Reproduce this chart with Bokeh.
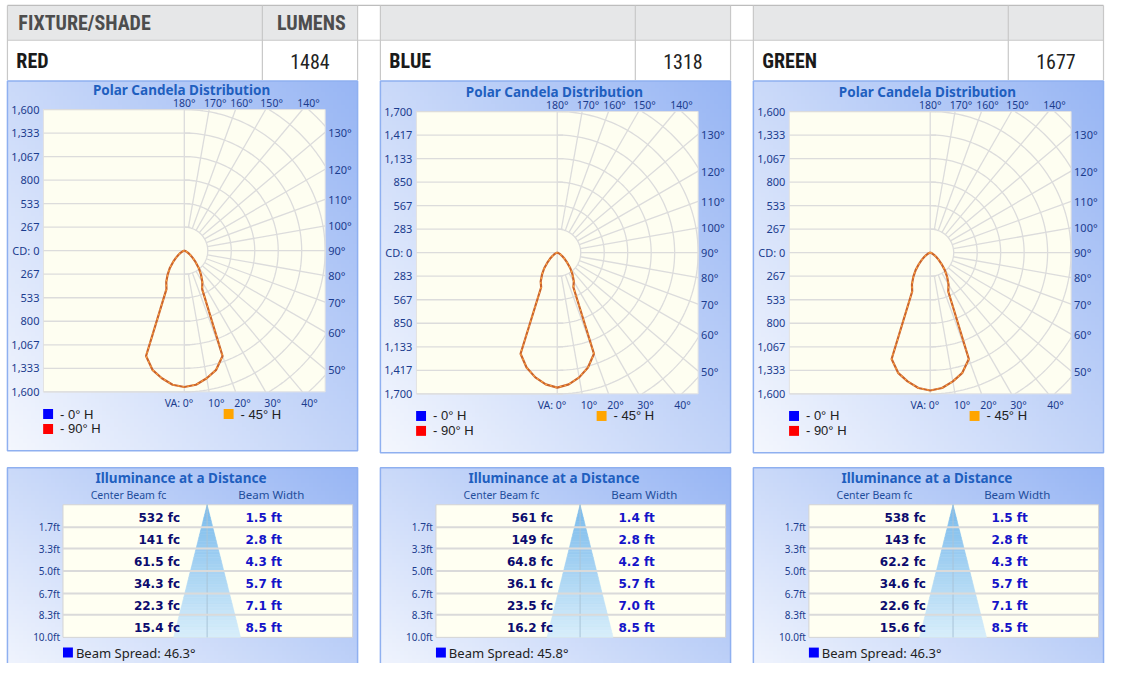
import numpy as np
from bokeh.plotting import figure
from bokeh.models import Range1d
from bokeh.core.properties import value
from bokeh.embed import file_html
from bokeh.resources import INLINE

# ---------------- data ----------------
shades = ["RED", "BLUE", "GREEN"]
lumens = [1484, 1318, 1677]
header_titles = ["FIXTURE/SHADE", "LUMENS"]
cd_axis_max = [1600, 1700, 1600]
vertical_angles = [0, 5, 10, 15, 20, 25, 30, 35, 40, 45, 50, 55, 60, 65, 70, 75, 80, 85, 90]
candela_red = [1545, 1525, 1468, 1398, 1270, 480, 410, 330, 255, 180, 122, 80, 50, 30, 18, 10, 5, 2, 0]
candela_blue = [1625, 1592, 1525, 1432, 1295, 460, 400, 320, 245, 170, 115, 75, 48, 28, 16, 9, 4, 2, 0]
candela_green = [1562, 1540, 1482, 1410, 1282, 485, 415, 335, 258, 182, 123, 81, 50, 30, 18, 10, 5, 2, 0]
bottom_angle_ticks = [0, 10, 20, 30, 40]
top_angle_ticks = [180, 170, 160, 150, 140]
right_angle_ticks = [130, 120, 110, 100, 90, 80, 70, 60, 50]
legend_labels = ["- 0° H", "- 90° H", "- 45° H"]
legend_colors = ["#0000FF", "#FF0000", "#FFA500"]
distance_ft = [1.7, 3.3, 5.0, 6.7, 8.3, 10.0]
center_fc_red = [532, 141, 61.5, 34.3, 22.3, 15.4]
center_fc_blue = [561, 149, 64.8, 36.1, 23.5, 16.2]
center_fc_green = [538, 143, 62.2, 34.6, 22.6, 15.6]
beam_width_red = [1.5, 2.8, 4.3, 5.7, 7.1, 8.5]
beam_width_blue = [1.4, 2.8, 4.2, 5.7, 7.0, 8.5]
beam_width_green = [1.5, 2.8, 4.3, 5.7, 7.1, 8.5]
beam_spread_deg = [46.3, 45.8, 46.3]

candelas = [candela_red, candela_blue, candela_green]
center_fcs = [center_fc_red, center_fc_blue, center_fc_green]
beam_widths = [beam_width_red, beam_width_blue, beam_width_green]

# ---------------- styling / layout ----------------
F_HEAD = "'Roboto Condensed', 'Liberation Sans Narrow', Roboto"
F_CHART = "Noto Sans"
F_VAL = "DejaVu Sans"
F_LEG = "Liberation Sans"
TITLE_C = "#1F5FBF"
NAVY = "#1B3C8E"
GRID_C = "#DCDCDC"
PANEL_BORDER = "#8FB0F0"
LIGHT = (244, 247, 254)
DARK = (152, 182, 244)

W, H = 1105, 663
FX0, FX1, FY0, FY1 = 0, 1114, 0, 667

p = figure(width=W, height=H, x_range=Range1d(FX0, FX1), y_range=Range1d(FY1, FY0),
           x_axis_type=None, y_axis_type=None, output_backend="svg",
           toolbar_location=None, min_border=0, outline_line_color=None,
           background_fill_color="white", border_fill_color="white")
p.extra_y_ranges["up"] = Range1d(-FY1, -FY0)


def add_x(name, c, ppu):
    p.extra_x_ranges[name] = Range1d((FX0 - c) / ppu, (FX1 - c) / ppu)


def add_y_up(name, c, ppu):
    p.extra_y_ranges[name] = Range1d((c - FY1) / ppu, (c - FY0) / ppu)


def add_y_down(name, top, ppu):
    p.extra_y_ranges[name] = Range1d((FY1 - top) / ppu, (FY0 - top) / ppu)


def txt(x, y, t, size, color, font=F_CHART, style="normal", align="left", base="middle", **kw):
    p.text(x=x, y=y, text=t, text_font=value(font), text_font_size=size,
           text_color=color, text_font_style=style, text_align=align,
           text_baseline=base, **kw)


def gradient_panel(x0, y0, x1, y1):
    w = max(2, int((x1 - x0) / 4))
    h = max(2, int((y1 - y0) / 4))
    fx = np.linspace(0, 1, w)[None, :]
    fy = np.linspace(0, 1, h)[:, None]
    t = (fx * 0.55 + fy * 0.45)
    img = np.empty((h, w), dtype=np.uint32)
    v = img.view(dtype=np.uint8).reshape((h, w, 4))
    for k in range(3):
        v[..., k] = (LIGHT[k] + (DARK[k] - LIGHT[k]) * t).astype(np.uint8)
    v[..., 3] = 255
    p.image_rgba(image=[img], x=x0, y=-y1, dw=x1 - x0, dh=y1 - y0, y_range_name="up")
    p.quad(left=x0, right=x1, top=y0, bottom=y1, fill_color=None,
           line_color=PANEL_BORDER, line_width=1.5)


# ---------------- header table ----------------
col_x0 = [7, 383, 759]
col_w = 353
div_off = 257
p.quad(left=[c for c in col_x0], right=[c + col_w for c in col_x0], top=5, bottom=40,
       fill_color="#E6E7E8", line_color=None)
p.segment(x0=7, y0=5, x1=1112, y1=5, line_color="#BDBDBD", line_width=1.2)
p.segment(x0=7, y0=40, x1=1112, y1=40, line_color="#C8C8C8", line_width=1.2)
for c in col_x0:
    for xx in (c, c + col_w, c + div_off):
        p.segment(x0=xx, y0=5, x1=xx, y1=80, line_color="#C8C8C8", line_width=1.2)

txt([18], [23], [header_titles[0]], "20px", "#4D4D4D", F_HEAD, "bold")
txt([348], [23], [header_titles[1]], "20px", "#4D4D4D", F_HEAD, "bold", "right")
txt([c + 9 for c in col_x0], [61] * 3, shades, "20px", "#1A1A1A", F_HEAD, "bold")
txt([c + 305 for c in col_x0], [61] * 3, [str(l) for l in lumens], "20px", "#222222", F_HEAD,
    "normal", "center")

# ---------------- polar candela panels ----------------
for i in range(3):
    ox = 376 * i
    oy = 0 if i == 0 else 2
    gradient_panel(7 + ox, 81, 360 + ox, 453 + oy)
    txt([182.5 + ox], [90 + oy], ["Polar Candela Distribution"], "13.5px", TITLE_C, F_CHART, "bold",
        "center")

    M = cd_axis_max[i]
    step = M / 6.0
    cx, cy = 185.3 + ox, 251.7 + oy
    ppu = 142.0 / M
    xn, yn = f"px{i}", f"py{i}"
    add_x(xn, cx, ppu)
    add_y_up(yn, cy, ppu)
    kw = dict(x_range_name=xn, y_range_name=yn)

    p.quad(left=-M, right=M, bottom=-M, top=M, fill_color="#FEFEF1",
           line_color="#E2E2E2", line_width=1, **kw)

    # left half horizontal gridlines
    ext = 6 / ppu
    hx, hy = [], []
    for k in range(-6, 7):
        hx.append([-M, ext if k != 0 else 0])
        hy.append([k * step, k * step])
    hx.append([0, 0])
    hy.append([-M, M])
    # arcs on right half
    for k in range(1, 9):
        r = k * step
        if r <= M + 1e-6:
            segs = [np.linspace(-np.pi / 2, np.pi / 2, 120)]
        else:
            a, b = np.arccos(M / r), np.arcsin(M / r)
            segs = [np.linspace(a, b, 40), np.linspace(-b, -a, 40)] if a < b else []
        for s in segs:
            hx.append(list(r * np.cos(s)))
            hy.append(list(r * np.sin(s)))
    # radial lines
    for ang in range(10, 180, 10):
        th = np.radians(ang)
        dx, dy = np.sin(th), -np.cos(th)
        tmax = min(M / abs(dx), M / abs(dy) if abs(dy) > 1e-9 else np.inf)
        hx.append([step * dx, tmax * dx])
        hy.append([step * dy, tmax * dy])
    p.multi_line(xs=hx, ys=hy, line_color=GRID_C, line_width=1.3, **kw)

    # candela curve (0°H, 90°H, 45°H overlap)
    ang = np.radians(np.array([-a for a in vertical_angles[::-1]] + vertical_angles[1:], dtype=float))
    cdv = np.array(candelas[i][::-1] + candelas[i][1:], dtype=float)
    xs, ys = cdv * np.sin(ang), -cdv * np.cos(ang)
    p.line(xs, ys, line_color="#C9642E", line_width=2.2, **kw)
    p.line(xs, ys, line_color="#FFA540", line_width=1.2, line_dash="2 3", **kw)

    # CD tick labels
    ky = [k * step for k in range(6, -7, -1)]
    kl = [("CD: 0" if k == 0 else f"{int(round(abs(k) * step)):,}") for k in range(6, -7, -1)]
    txt([-M] * len(ky), ky, kl, "11px", NAVY, x_offset=-4, align="right", **kw)

    # right angle labels
    rx, ry, rl = [], [], []
    for a in right_angle_ticks:
        th = np.radians(a)
        rx.append(M)
        ry.append(-M * np.cos(th) / np.sin(th))
        rl.append(f"{a}°")
    txt(rx, ry, rl, "11px", NAVY, x_offset=3, **kw)
    # top angle labels
    tx = [-M * np.tan(np.radians(a)) for a in top_angle_ticks]
    tl = [f"{a}°" for a in top_angle_ticks]
    txt(tx[:1], [M], tl[:1], "10.5px", NAVY, align="center", y_offset=-7, **kw)
    txt(tx[1:], [M] * (len(tx) - 1), tl[1:], "10.5px", NAVY,
        align="center", x_offset=6, y_offset=-7, **kw)
    # bottom angle labels
    bx = [M * np.tan(np.radians(a)) for a in bottom_angle_ticks]
    txt(bx[:1], [-M], [f"VA: {bottom_angle_ticks[0]}°"], "10.5px", NAVY, align="right",
        x_offset=9, y_offset=11, **kw)
    txt(bx[1:], [-M] * (len(bx) - 1), [f"{a}°" for a in bottom_angle_ticks[1:]], "10.5px", NAVY,
        align="center", x_offset=7, y_offset=11, **kw)

    # legend
    lx = [48 + ox, 48 + ox, 230 + ox]
    ly = [416 + oy, 431 + oy, 416 + oy]
    p.rect(x=lx, y=ly, width=10, height=10, fill_color=legend_colors, line_color=None)
    txt([x + 12 for x in lx], ly, legend_labels, "13px", "#222222", F_LEG)

# ---------------- illuminance panels ----------------
TBL_TOP = 507.3
FT_PPU = 13.34
add_y_down("ft", TBL_TOP, FT_PPU)
row_bounds = [0.0] + distance_ft
row_mid = [(row_bounds[k] + row_bounds[k + 1]) / 2 for k in range(len(distance_ft))]
for i in range(3):
    ox = 376 * i
    gradient_panel(7 + ox, 470, 360 + ox, 690)
    txt([182 + ox], [480], ["Illuminance at a Distance"], "13.5px", TITLE_C, F_CHART, "bold", "center")
    txt([129 + ox], [497], ["Center Beam fc"], "10.5px", "#1F4E9C", F_CHART, align="center")
    txt([273 + ox], [497], ["Beam Width"], "11.5px", "#1F4E9C", F_CHART, align="center")
    p.quad(left=63 + ox, right=355 + ox, top=0, bottom=distance_ft[-1], fill_color="#FFFFF2",
           line_color="#D4D4D4", line_width=1, y_range_name="ft")

    # cone
    half = np.tan(np.radians(beam_spread_deg[i] / 2))
    cn = f"cone{i}"
    add_x(cn, 208.3 + ox, 33.7 / (10 * np.tan(np.radians(46.3 / 2))))
    N = 40
    dmax = distance_ft[-1]
    pxs, pys, cols = [], [], []
    top_c, bot_c = np.array([120, 186, 236]), np.array([216, 238, 251])
    for n in range(N):
        d0, d1 = dmax * n / N, dmax * (n + 1) / N
        pxs.append([-d0 * half, d0 * half, d1 * half, -d1 * half])
        pys.append([d0, d0, d1, d1])
        c = (top_c + (bot_c - top_c) * (n + 0.5) / N).astype(int)
        cols.append("#%02x%02x%02x" % tuple(c))
    p.patches(xs=pxs, ys=pys, fill_color=cols, line_color=cols, line_width=0.6,
              x_range_name=cn, y_range_name="ft")
    p.segment(x0=0, y0=0, x1=0, y1=dmax, line_color="#A9C4D8", line_width=1,
              x_range_name=cn, y_range_name="ft")

    p.segment(x0=63 + ox, x1=355 + ox, y0=distance_ft[:-1], y1=distance_ft[:-1],
              line_color="#DADADA", line_width=2, y_range_name="ft")

    txt([60 + ox] * 6, distance_ft, [f"{d:.1f}ft" for d in distance_ft], "10px", NAVY,
        align="right", y_range_name="ft")
    txt([181 + ox] * 6, row_mid, [f"{v:g} fc" for v in center_fcs[i]], "12px", "#0C0C6E",
        F_VAL, "bold", "right", y_offset=2, y_range_name="ft")
    txt([247 + ox] * 6, row_mid, [f"{v:.1f} ft" for v in beam_widths[i]], "12px", "#1414C8",
        F_VAL, "bold", "left", y_offset=2, y_range_name="ft")

    p.rect(x=[68 + ox], y=[656], width=10, height=10, fill_color="#0000FF", line_color=None)
    txt([76 + ox], [656], [f"Beam Spread: {beam_spread_deg[i]}°"], "13px", "#222222", F_CHART)

open("out.html", "w").write(file_html(p, INLINE))
